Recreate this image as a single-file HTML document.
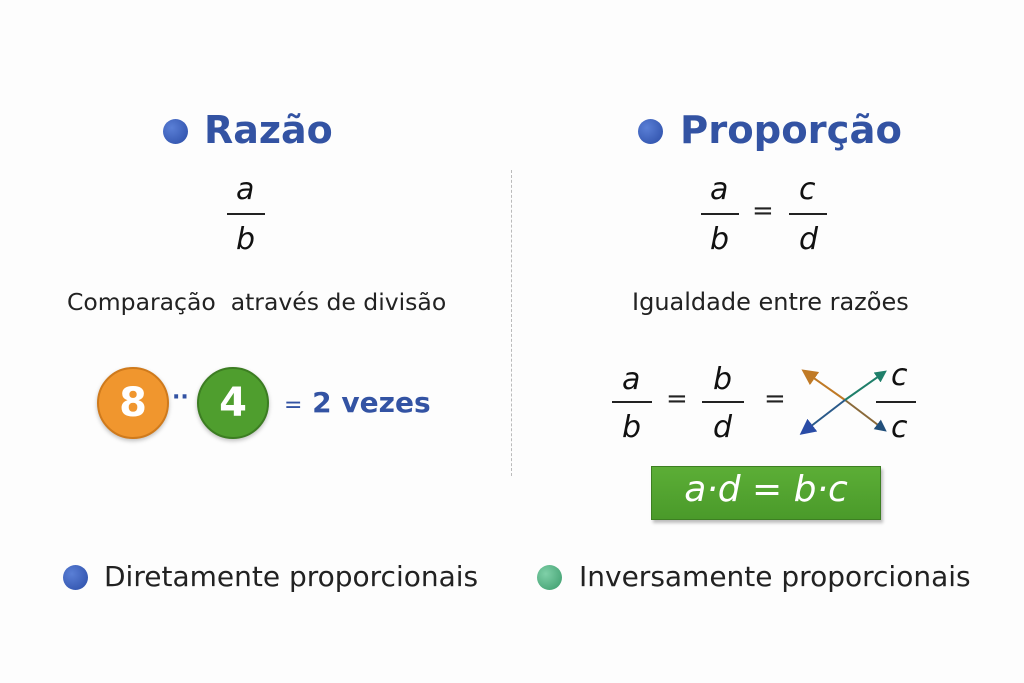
<!DOCTYPE html>
<html><head><meta charset="utf-8"><style>
body{margin:0;width:1024px;height:683px;background:#fdfdfd;position:relative;overflow:hidden;font-family:"DejaVu Sans","Liberation Sans",sans-serif;color:#222}
.a{position:absolute;white-space:nowrap}
.t{font-weight:bold;color:#3353a3}
.dot{position:absolute;border-radius:50%}
.m{font-style:italic;font-size:30px;color:#111}
.bar{position:absolute;height:2px;background:#222}
.c{position:absolute;border-radius:50%;display:flex;align-items:center;justify-content:center;color:#fff;font-weight:bold;font-size:40px}
</style></head><body>
<div class="dot" style="left:163px;top:119px;width:25px;height:25px;background:radial-gradient(circle at 35% 35%,#5a7fd6,#2a4ca6)"></div>
<div class="a t" style="left:204px;top:108px;font-size:38px">Razão</div>
<div class="dot" style="left:638px;top:119px;width:25px;height:25px;background:radial-gradient(circle at 35% 35%,#5a7fd6,#2a4ca6)"></div>
<div class="a t" style="left:680px;top:108px;font-size:38.5px">Proporção</div>
<div class="a" style="left:511px;top:170px;height:306px;border-left:1px dashed #bbb"></div>

<div class="a m" style="left:236px;top:172px">a</div>
<div class="bar" style="left:227px;top:213px;width:38px"></div>
<div class="a m" style="left:236px;top:222px">b</div>

<div class="a m" style="left:710px;top:172px">a</div>
<div class="bar" style="left:701px;top:213px;width:38px"></div>
<div class="a m" style="left:710px;top:222px">b</div>
<div class="a" style="left:752px;top:196px;font-size:26px">=</div>
<div class="a m" style="left:799px;top:172px">c</div>
<div class="bar" style="left:789px;top:213px;width:38px"></div>
<div class="a m" style="left:799px;top:222px">d</div>

<div class="a" style="left:67px;top:288px;font-size:23.5px">Comparação&nbsp; através de divisão</div>
<div class="a" style="left:632px;top:288px;font-size:24px">Igualdade entre razões</div>

<div class="c" style="left:97px;top:367px;width:68px;height:68px;background:#f0962e;border:2px solid #cf7a1c;box-shadow:0 2px 4px rgba(0,0,0,.25)">8</div>
<div class="a" style="left:172px;top:385px;color:#3353a3;font-size:22px;font-weight:bold">··</div>
<div class="c" style="left:197px;top:367px;width:68px;height:68px;background:#4f9e2e;border:2px solid #3c7d22;box-shadow:0 2px 4px rgba(0,0,0,.25)">4</div>
<div class="a" style="left:284px;top:386px;color:#3353a3;font-size:28px;font-weight:bold"><span style="font-weight:normal;font-size:22px">=</span> 2 vezes</div>

<div class="a m" style="left:622px;top:362px">a</div>
<div class="bar" style="left:612px;top:401px;width:40px"></div>
<div class="a m" style="left:622px;top:410px">b</div>
<div class="a" style="left:666px;top:384px;font-size:26px">=</div>
<div class="a m" style="left:713px;top:362px">b</div>
<div class="bar" style="left:702px;top:401px;width:42px"></div>
<div class="a m" style="left:713px;top:410px">d</div>
<div class="a" style="left:764px;top:384px;font-size:26px">=</div>
<svg class="a" style="left:790px;top:360px" width="140" height="90">
<defs>
<marker id="o" markerWidth="8" markerHeight="8" refX="4" refY="4" orient="auto"><path d="M0,0L8,4L0,8z" fill="#c07a26"/></marker>
<marker id="b" markerWidth="8" markerHeight="8" refX="4" refY="4" orient="auto"><path d="M0,0L8,4L0,8z" fill="#2a4ca6"/></marker>
<marker id="g" markerWidth="6" markerHeight="6" refX="3" refY="3" orient="auto"><path d="M0,0L6,3L0,6z" fill="#1f7f6a"/></marker>
<marker id="n" markerWidth="6" markerHeight="6" refX="3" refY="3" orient="auto"><path d="M0,0L6,3L0,6z" fill="#224f7a"/></marker>
</defs>
<line x1="55" y1="40" x2="18" y2="14" stroke="#c07a26" stroke-width="2" marker-end="url(#o)"/>
<line x1="55" y1="40" x2="92" y2="68" stroke="#8a6a3a" stroke-width="2" marker-end="url(#n)"/>
<line x1="55" y1="40" x2="92" y2="14" stroke="#1f7f6a" stroke-width="2" marker-end="url(#g)"/>
<line x1="55" y1="40" x2="16" y2="70" stroke="#2a5a8a" stroke-width="2" marker-end="url(#b)"/>
</svg>
<div class="a m" style="left:891px;top:358px">c</div>
<div class="bar" style="left:876px;top:401px;width:40px"></div>
<div class="a m" style="left:891px;top:410px">c</div>

<div class="a" style="left:651px;top:466px;width:228px;height:52px;background:linear-gradient(#5cae36,#4a9a2a);border:1px solid #3d7f22;box-shadow:2px 3px 3px rgba(0,0,0,.25)"></div>
<div class="a" style="left:651px;top:469px;width:230px;text-align:center;color:#fff;font-style:italic;font-size:36px">a·d = b·c</div>

<div class="dot" style="left:63px;top:565px;width:25px;height:25px;background:radial-gradient(circle at 35% 35%,#5a7fd6,#2a4ca6)"></div>
<div class="a" style="left:104px;top:560px;font-size:28px">Diretamente proporcionais</div>
<div class="dot" style="left:537px;top:565px;width:25px;height:25px;background:radial-gradient(circle at 35% 35%,#7fd0a8,#3a9a6a)"></div>
<div class="a" style="left:579px;top:560px;font-size:28px">Inversamente proporcionais</div>
</body></html>
